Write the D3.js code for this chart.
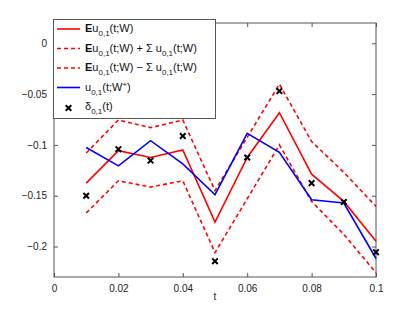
<!DOCTYPE html>
<html>
<head>
<meta charset="utf-8">
<script src="https://cdn.jsdelivr.net/npm/d3@7"></script>
<style>
  body { margin: 0; background: #fff; }
  text { font-family: "Liberation Sans", Arial, sans-serif; }
</style>
</head>
<body>
<div id="chart"></div>
<script>
const width = 415, height = 312
const margin = {top: 23, right: 39, bottom: 35, left: 54}

// data
const tValues = [0.01, 0.02, 0.03, 0.04, 0.05, 0.06, 0.07, 0.08, 0.09, 0.1]
const meanU  = [-0.1376, -0.1056, -0.1124, -0.1049, -0.176, -0.1124, -0.0683, -0.1288, -0.1556, -0.1948]
const upperU = [-0.108, -0.0755, -0.083, -0.0755, -0.145, -0.0925, -0.0402, -0.0967, -0.127, -0.1605]
const lowerU = [-0.167, -0.1353, -0.1415, -0.1353, -0.206, -0.153, -0.1, -0.1556, -0.188, -0.2258]
const uStar  = [-0.1026, -0.1206, -0.0958, -0.1186, -0.149, -0.0886, -0.1072, -0.154, -0.1572, -0.2118]
const delta  = [-0.15, -0.1042, -0.1154, -0.0912, -0.2144, -0.1124, -0.047, -0.1376, -0.1562, -0.2056]
const xTicks = [0, 0.02, 0.04, 0.06, 0.08, 0.1]
const yTicks = [0, -0.05, -0.1, -0.15, -0.2]

const x = d3.scaleLinear().domain([0, 0.1]).range([margin.left, width - margin.right])
const y = d3.scaleLinear().domain([-0.23, 0.02]).range([height - margin.bottom, margin.top])

const svg = d3.select('#chart').append('svg')
              .attr('width', width)
              .attr('height', height)

const fmt = d => d === 0 ? '0' : d3.format('')(d).replace('-', '\u2212')
const axisColor = '#555'

function styleAxis(g) {
  g.select('.domain').remove()
  g.selectAll('line').attr('stroke', axisColor)
  g.selectAll('text').attr('fill', '#222').attr('font-size', '10px')
}

svg.append('g')
   .attr('transform', 'translate(0,' + (height - margin.bottom) + ')')
   .call(d3.axisBottom(x).tickValues(xTicks).tickFormat(fmt).tickSizeInner(-4).tickPadding(8))
   .call(styleAxis)
svg.append('g')
   .attr('transform', 'translate(0,' + margin.top + ')')
   .call(d3.axisTop(x).tickValues(xTicks).tickFormat('').tickSizeInner(-4))
   .call(styleAxis)
svg.append('g')
   .attr('transform', 'translate(' + margin.left + ',0)')
   .call(d3.axisLeft(y).tickValues(yTicks).tickFormat(fmt).tickSizeInner(-4).tickPadding(7))
   .call(styleAxis)
svg.append('g')
   .attr('transform', 'translate(' + (width - margin.right) + ',0)')
   .call(d3.axisRight(y).tickValues(yTicks).tickFormat('').tickSizeInner(-4))
   .call(styleAxis)

svg.append('rect')
   .attr('x', margin.left).attr('y', margin.top)
   .attr('width', width - margin.left - margin.right)
   .attr('height', height - margin.top - margin.bottom)
   .attr('fill', 'none').attr('stroke', axisColor).attr('stroke-width', 1)

svg.append('text')
   .attr('x', x(0.05)).attr('y', 300)
   .attr('text-anchor', 'middle').attr('font-size', '10px').attr('fill', '#222')
   .text('t')

const line = d3.line().x((d, i) => x(tValues[i])).y(d => y(d))

const series = [
  {values: upperU, color: 'red', dash: '4,3'},
  {values: lowerU, color: 'red', dash: '4,3'},
  {values: meanU, color: 'red', dash: null},
  {values: uStar, color: 'blue', dash: null}
]

svg.selectAll('path.series')
   .data(series)
   .enter()
   .append('path')
   .attr('class', 'series')
   .attr('d', d => line(d.values))
   .attr('fill', 'none')
   .attr('stroke', d => d.color)
   .attr('stroke-width', 1.6)
   .attr('stroke-dasharray', d => d.dash)

const cross = (cx, cy, s) => `M${cx - s},${cy - s}L${cx + s},${cy + s}M${cx - s},${cy + s}L${cx + s},${cy - s}`

svg.selectAll('path.cross')
   .data(delta)
   .enter()
   .append('path')
   .attr('class', 'cross')
   .attr('d', (d, i) => cross(x(tValues[i]), y(d), 2.8))
   .attr('stroke', 'black')
   .attr('stroke-width', 2)

// legend
const legend = svg.append('g')
legend.append('rect')
      .attr('x', 53.5).attr('y', 19.5)
      .attr('width', 162).attr('height', 99)
      .attr('fill', 'white').attr('stroke', axisColor)

const legendItems = [
  {kind: 'line', color: 'red', dash: null, parts: [['E', 'b'], ['u'], ['0,1', 'sub'], ['(t;W)']]},
  {kind: 'line', color: 'red', dash: '4,3', parts: [['E', 'b'], ['u'], ['0,1', 'sub'], ['(t;W) + \u03a3 u'], ['0,1', 'sub'], ['(t;W)']]},
  {kind: 'line', color: 'red', dash: '4,3', parts: [['E', 'b'], ['u'], ['0,1', 'sub'], ['(t;W) \u2212 \u03a3 u'], ['0,1', 'sub'], ['(t;W)']]},
  {kind: 'line', color: 'blue', dash: null, parts: [['u'], ['0,1', 'sub'], ['(t;W'], ['+', 'sup'], [')']]},
  {kind: 'cross', parts: [['\u03b4'], ['0,1', 'sub'], ['(t)']]}
]

legendItems.forEach((item, i) => {
  const cy = 29 + i * 19.5
  if (item.kind === 'line') {
    legend.append('line')
          .attr('x1', 57).attr('x2', 80).attr('y1', cy).attr('y2', cy)
          .attr('stroke', item.color).attr('stroke-width', 1.6)
          .attr('stroke-dasharray', item.dash)
  } else {
    legend.append('path')
          .attr('d', cross(68.5, cy + 1, 2.8))
          .attr('stroke', 'black').attr('stroke-width', 2)
  }
  const txt = legend.append('text')
                    .attr('x', 85).attr('y', cy + 3)
                    .attr('font-size', '11px').attr('fill', '#111')
  let shift = 0
  item.parts.forEach(p => {
    const target = p[1] === 'sub' ? 4 : p[1] === 'sup' ? -4 : 0
    const ts = txt.append('tspan').text(p[0]).attr('dy', target - shift)
    if (p[1] === 'b') ts.attr('font-weight', 'bold')
    if (p[1] === 'sub' || p[1] === 'sup') ts.attr('font-size', '8px')
    shift = target
  })
})
</script>
</body>
</html>
